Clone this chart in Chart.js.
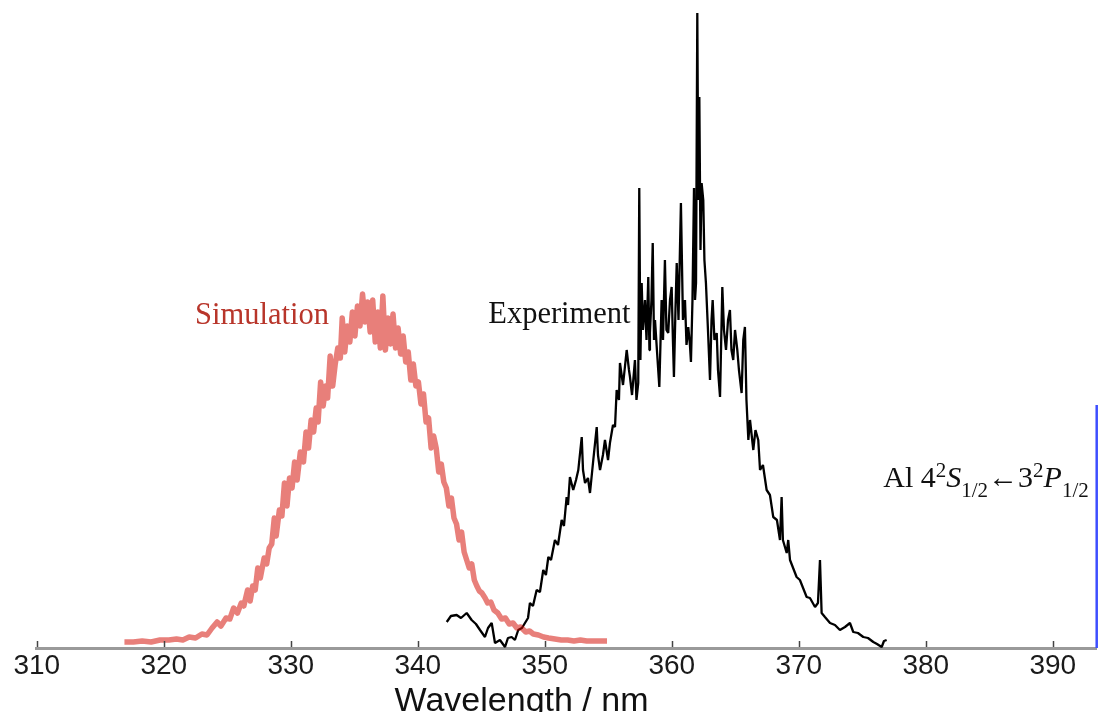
<!DOCTYPE html>
<html>
<head>
<meta charset="utf-8">
<script src="https://cdn.jsdelivr.net/npm/chart.js@4.4.0/dist/chart.umd.min.js"></script>
<style>
  html, body { margin: 0; padding: 0; background: #fff; }
  #wrap { width: 1099px; height: 712px; position: relative; }
</style>
</head>
<body>
<div id="wrap"><canvas id="spectrum"></canvas></div>
<script>
// Al 4S <- 3P band: simulated vs measured spectrum, wavelength axis only.

const tickValues = [310, 320, 330, 340, 350, 360, 370, 380, 390];

// simulated spectrum (noisy band)
const simWavelength = [
  316.9, 317.6, 318.3, 319.0, 319.7, 320.4, 321.0, 321.5, 322.0, 322.5, 323.0, 323.4,
  323.8, 324.2, 324.5, 324.9, 325.2, 325.5, 325.8, 326.1, 326.3, 326.6, 326.8, 327.0,
  327.2, 327.4, 327.6, 327.9, 328.1, 328.3, 328.5, 328.7, 328.85, 329.1, 329.3, 329.5,
  329.7, 329.9, 330.1, 330.3, 330.5, 330.75, 331.0, 331.2, 331.4, 331.6, 331.8, 332.0,
  332.15, 332.35, 332.55, 332.75, 332.9, 333.1, 333.3, 333.5, 333.7, 333.9, 334.05, 334.25,
  334.45, 334.65, 334.85, 335.05, 335.25, 335.45, 335.65, 335.85, 336.05, 336.25, 336.45, 336.65,
  336.85, 337.05, 337.25, 337.45, 337.65, 337.85, 338.05, 338.25, 338.45, 338.65, 338.85, 339.05,
  339.25, 339.45, 339.65, 339.85, 340.05, 340.25, 340.45, 340.65, 340.85, 341.05, 341.25, 341.45,
  341.65, 341.85, 342.05, 342.25, 342.45, 342.65, 342.85, 343.05, 343.25, 343.45, 343.65, 343.85,
  344.05, 344.25, 344.45, 344.65, 344.85, 345.05, 345.3, 345.5, 345.75, 346.0, 346.3, 346.6,
  346.9, 347.2, 347.5, 347.8, 348.1, 348.5, 348.8, 349.1, 349.5, 349.9, 350.3, 350.8,
  351.3, 351.8, 352.3, 352.8, 353.3, 353.8, 354.3, 354.9
];
const simIntensity = [
  6, 6, 7, 6, 8, 8, 9, 8, 11, 10, 14, 13,
  20, 26, 22, 30, 29, 40, 35, 45, 42, 58, 47, 62,
  58, 80, 70, 90, 84, 100, 104, 130, 112, 138, 132, 165,
  142, 170, 160, 186, 168, 196, 186, 216, 200, 228, 216, 240,
  226, 266, 242, 262, 250, 292, 262, 284, 300, 290, 330, 296,
  322, 306, 336, 312, 342, 322, 354, 326, 346, 316, 348, 306,
  336, 300, 352, 298, 330, 304, 334, 300, 320, 294, 312, 286,
  296, 268, 284, 262, 266, 244, 254, 226, 230, 200, 212, 200,
  176, 184, 166, 160, 142, 150, 130, 124, 108, 116, 96, 88,
  80, 84, 68, 62, 57, 55, 50, 45, 46, 38, 35, 29,
  30, 24, 25, 20, 21, 16, 17, 14, 13, 11, 10, 9,
  8, 8, 7, 8, 7, 7, 7, 7
];

// measured spectrum
const expWavelength = [
  342.28, 342.61, 343.06, 343.40, 343.85, 344.24, 344.58, 344.90, 345.29, 345.53, 345.82, 346.08,
  346.47, 346.87, 347.10, 347.39, 347.65, 347.91, 348.20, 348.44, 348.68, 348.83, 349.07, 349.36,
  349.62, 349.88, 350.09, 350.28, 350.49, 350.80, 351.04, 351.33, 351.51, 351.72, 351.83, 351.98,
  352.24, 352.46, 352.64, 352.91, 353.01, 353.17, 353.40, 353.56, 353.82, 354.09, 354.19, 354.35,
  354.58, 354.74, 354.98, 355.13, 355.37, 355.53, 355.66, 355.84, 355.92, 356.16, 356.45, 356.63,
  356.71, 356.87, 357.10, 357.22, 357.36, 357.44, 357.53, 357.63, 357.73, 357.89, 358.01, 358.15,
  358.24, 358.28, 358.40, 358.50, 358.60, 358.68, 358.83, 359.02, 359.20, 359.31, 359.46, 359.58,
  359.72, 359.86, 359.99, 360.09, 360.17, 360.29, 360.39, 360.53, 360.72, 360.88, 361.04, 361.16,
  361.30, 361.43, 361.51, 361.63, 361.75, 361.83, 361.91, 362.01, 362.09, 362.17, 362.26, 362.35,
  362.48, 362.57, 362.69, 362.85, 363.01, 363.13, 363.22, 363.36, 363.54, 363.64, 363.80, 363.98,
  364.11, 364.27, 364.43, 364.58, 364.70, 364.84, 364.98, 365.16, 365.29, 365.50, 365.63, 365.76,
  365.88, 366.03, 366.16, 366.42, 366.59, 366.81, 366.95, 367.18, 367.47, 367.73, 367.99, 368.28,
  368.52, 368.65, 368.75, 369.05, 369.17, 369.31, 369.83, 370.09, 370.62, 370.88, 371.28, 371.51,
  371.67, 371.80, 372.06, 372.46, 372.85, 373.24, 373.64, 374.03, 374.29, 374.66, 375.08, 375.45,
  375.87, 376.16, 376.53, 376.71, 376.92
];
const expIntensity = [
  26, 32, 33, 30, 35, 28, 24, 18, 11, 20, 25, 5,
  8, 1, 10, 11, 8, 18, 20, 25, 30, 45, 42, 58,
  56, 78, 73, 91, 88, 108, 103, 128, 122, 151, 143, 171,
  158, 168, 178, 211, 178, 165, 170, 155, 188, 221, 193, 178,
  193, 208, 188, 205, 223, 221, 258, 248, 285, 263, 298, 278,
  271, 253, 288, 248, 265, 460, 288, 365, 318, 348, 308, 371,
  298, 315, 348, 405, 308, 328, 298, 261, 348, 308, 388, 318,
  315, 348, 361, 308, 271, 338, 385, 328, 445, 328, 348, 303,
  321, 303, 286, 348, 460, 348, 365, 635, 448, 551, 398, 465,
  448, 388, 365, 318, 268, 328, 348, 308, 315, 278, 251, 361,
  318, 298, 328, 338, 298, 288, 318, 298, 278, 255, 308, 321,
  248, 208, 228, 198, 218, 208, 178, 183, 158, 153, 131, 128,
  108, 151, 108, 95, 108, 88, 71, 68, 51, 50, 41, 45,
  88, 35, 31, 25, 23, 18, 21, 25, 16, 15, 11, 10,
  6, 4, 1, 7, 8
];

// blue vertical marker at the right edge
const markerWavelength = [393.46, 393.46];
const markerIntensity = [0, 243];

const X_MIN = 310;
const X_MAX = 393.46;
const Y_MAX = 648;

const labels = [
  { text: 'Simulation', x: 322.46, y: 324, color: '#b8352a' },
  { text: 'Experiment', x: 345.55, y: 325, color: '#111' },
];
const transition = { x: 376.65, y: 161 };

function toPoints(xs, ys) {
  return xs.map((x, i) => ({ x, y: ys[i] }));
}

const SERIF = '"Liberation Serif", "Times New Roman", serif';
const SANS = '"Liberation Sans", Arial, Helvetica, sans-serif';

// inward tick marks, axis title and text labels
const decorations = {
  id: 'decorations',
  afterDraw(chart) {
    const { ctx, scales: { x, y } } = chart;
    const base = y.getPixelForValue(0);
    ctx.save();

    ctx.strokeStyle = '#444';
    ctx.lineWidth = 1.5;
    tickValues.forEach(v => {
      const px = Math.round(x.getPixelForValue(v)) + 0.5;
      ctx.beginPath();
      ctx.moveTo(px, base - 1);
      ctx.lineTo(px, base - 7);
      ctx.stroke();
    });

    ctx.fillStyle = '#111';
    ctx.font = '34px ' + SANS;
    ctx.textAlign = 'center';
    ctx.textBaseline = 'alphabetic';
    ctx.fillText('Wavelength / nm', x.getPixelForValue(348.17), base + 63);

    ctx.textAlign = 'left';
    ctx.font = '30.5px ' + SERIF;
    labels.forEach(l => {
      ctx.fillStyle = l.color;
      ctx.fillText(l.text, x.getPixelForValue(l.x), y.getPixelForValue(l.y));
    });

    // Al 4²S1/2 ← 3²P1/2
    const parts = [
      { t: 'Al 4', size: 30, dy: 0 },
      { t: '2', size: 21, dy: -10 },
      { t: 'S', size: 30, dy: 0, italic: true },
      { t: '1/2', size: 21, dy: 10 },
      { t: '\u2190', size: 30, dy: 0 },
      { t: '3', size: 30, dy: 0 },
      { t: '2', size: 21, dy: -10 },
      { t: 'P', size: 30, dy: 0, italic: true },
      { t: '1/2', size: 21, dy: 10 },
    ];
    let cx = x.getPixelForValue(transition.x);
    const cy = y.getPixelForValue(transition.y);
    ctx.fillStyle = '#111';
    parts.forEach(p => {
      ctx.font = (p.italic ? 'italic ' : '') + p.size + 'px ' + SERIF;
      ctx.fillText(p.t, cx, cy + p.dy);
      cx += ctx.measureText(p.t).width;
    });

    ctx.restore();
  }
};

new Chart(document.getElementById('spectrum'), {
  type: 'line',
  data: {
    datasets: [
      {
        label: 'Simulation',
        data: toPoints(simWavelength, simIntensity),
        borderColor: 'rgba(210, 10, 0, 0.52)',
        borderWidth: 5.5,
        borderJoinStyle: 'round',
        pointRadius: 0,
        order: 0,
      },
      {
        label: 'Experiment',
        data: toPoints(expWavelength, expIntensity),
        borderColor: '#000',
        borderWidth: 2.3,
        borderJoinStyle: 'bevel',
        pointRadius: 0,
        order: 1,
      },
      {
        label: 'marker',
        data: toPoints(markerWavelength, markerIntensity),
        borderColor: '#3d4eff',
        borderWidth: 2.5,
        pointRadius: 0,
        clip: false,
        order: 2,
      },
    ],
  },
  options: {
    animation: false,
    responsive: true,
    maintainAspectRatio: false,
    devicePixelRatio: 1,
    events: [],
    layout: { padding: { left: 36.8, right: 2.3, top: 0, bottom: 0 } },
    plugins: { legend: { display: false }, tooltip: { enabled: false } },
    scales: {
      x: {
        type: 'linear',
        min: X_MIN,
        max: X_MAX,
        afterBuildTicks: s => { s.ticks = tickValues.map(v => ({ value: v })); },
        afterFit: s => { s.height = 64; },
        grid: { display: false, drawTicks: false },
        border: { display: true, color: '#9a9a9a', width: 3 },
        ticks: {
          padding: 1,
          color: '#1a1a1a',
          autoSkip: false,
          maxRotation: 0,
          font: { family: SANS, size: 28 },
          callback: v => String(v),
        },
      },
      y: { display: false, min: 0, max: Y_MAX },
    },
  },
  plugins: [decorations],
});
</script>
</body>
</html>
